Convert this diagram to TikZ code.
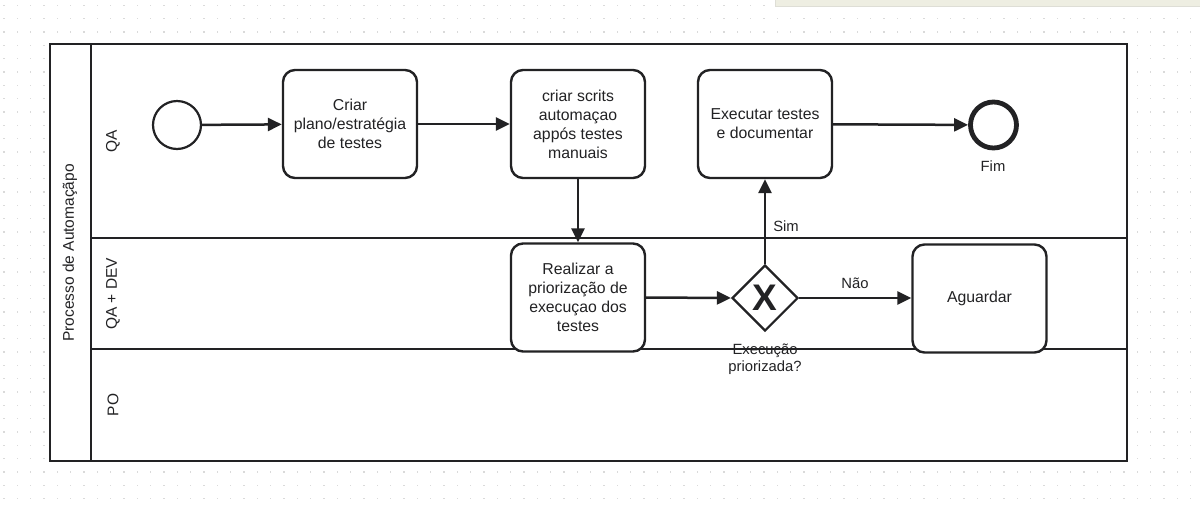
\documentclass[tikz,border=0pt]{standalone}
\usepackage{fontspec}
\setmainfont{Liberation Sans}
\usetikzlibrary{arrows.meta,shapes.geometric}
\definecolor{ink}{RGB}{34,34,36}
\definecolor{dotc}{RGB}{218,218,218}
\definecolor{panelfill}{RGB}{238,238,226}
\definecolor{panelline}{RGB}{222,222,214}
\begin{document}
\begin{tikzpicture}[x=1pt,y=-1pt,
  task/.style={draw=ink, fill=white, line width=2.4pt, rounded corners=12pt,
    minimum width=134pt, minimum height=108pt, align=center, text=ink,
    font=\fontsize{15.8}{19}\selectfont, inner sep=2pt},
  startev/.style={circle, draw=ink, fill=white, line width=2.2pt, minimum size=48pt, inner sep=0pt},
  endev/.style={circle, draw=ink, fill=white, line width=4.8pt, minimum size=46pt, inner sep=0pt},
  gate/.style={diamond, draw=ink, fill=white, line width=2.2pt, minimum width=66pt, minimum height=66pt,
    inner sep=0pt, font=\bfseries\fontsize{37}{37}\selectfont, text=ink},
  flow/.style={draw=ink, line width=2.5pt, -{Triangle[length=14pt,width=13pt]}},
  lbl/.style={text=ink, font=\fontsize{14.8}{17}\selectfont, align=center, inner sep=0pt},
  lanelbl/.style={text=ink, font=\fontsize{15.5}{17}\selectfont, rotate=90, inner sep=0pt},
  poolline/.style={draw=ink, line width=2.2pt}
]
\useasboundingbox (0,0) rectangle (1200,507);
\fill[white] (0,0) rectangle (1200,507);
% dotted grid background
\foreach \i in {0,...,89}{
  \foreach \j in {0,...,37}{
    \fill[dotc] ({3.3+13.333*\i},{4.7+13.333*\j}) rectangle ++(1.3,1.3);
  }
}
% top-right panel
\filldraw[fill=panelfill, draw=panelline, line width=1pt] (775,-2) rectangle (1202,6);
% pool
\filldraw[poolline, fill=white] (50,44) rectangle (1127,461);
\draw[poolline] (91,44) -- (91,461);
\draw[poolline] (91,238) -- (1127,238);
\draw[poolline] (91,349) -- (1127,349);
\node[lanelbl] (pool) at (70,253) {Processo de Automaçãpo};
\node[lanelbl] (laneqa) at (113,141) {QA};
\node[lanelbl] (laneqadev) at (113,294) {QA + DEV};
\node[lanelbl] (lanepo) at (113,405) {PO};
% events and tasks
\node[startev] (start) at (177,125) {};
\node[task] (t1) at (350,124) {Criar\\plano/estratégia\\de testes};
\node[task] (t2) at (578,124) {criar scrits\\automaçao\\appós testes\\manuais};
\node[task] (t3) at (765,124) {Executar testes\\e documentar};
\node[endev] (fim) at (993.5,125) {};
\node[lbl] (fimlbl) at (993,166) {Fim};
\node[task] (t4) at (578,297.5) {Realizar a\\priorização de\\execuçao dos\\testes};
\node[gate] (gw) at (765,298) {X};
\node[lbl] (gwlbl) at (765,359) {Execução\\priorizada?};
\node[task] (ag) at (979.5,298.5) {Aguardar};
% flows
\draw[flow] (start) -- (t1);
\draw[flow] (t1) -- (t2);
\draw[flow] (t2) -- (t4);
\draw[flow] (t4.east) -- (gw.west);
\draw[flow] (gw.north) -- (t3.south);
\draw[flow] (gw.east) -- (ag.west |- gw.east);
\draw[flow] (t3) -- (fim);
\node[lbl] (simlbl) at (786,226) {Sim};
\node[lbl] (naolbl) at (855,283) {Não};
\end{tikzpicture}
\end{document}
